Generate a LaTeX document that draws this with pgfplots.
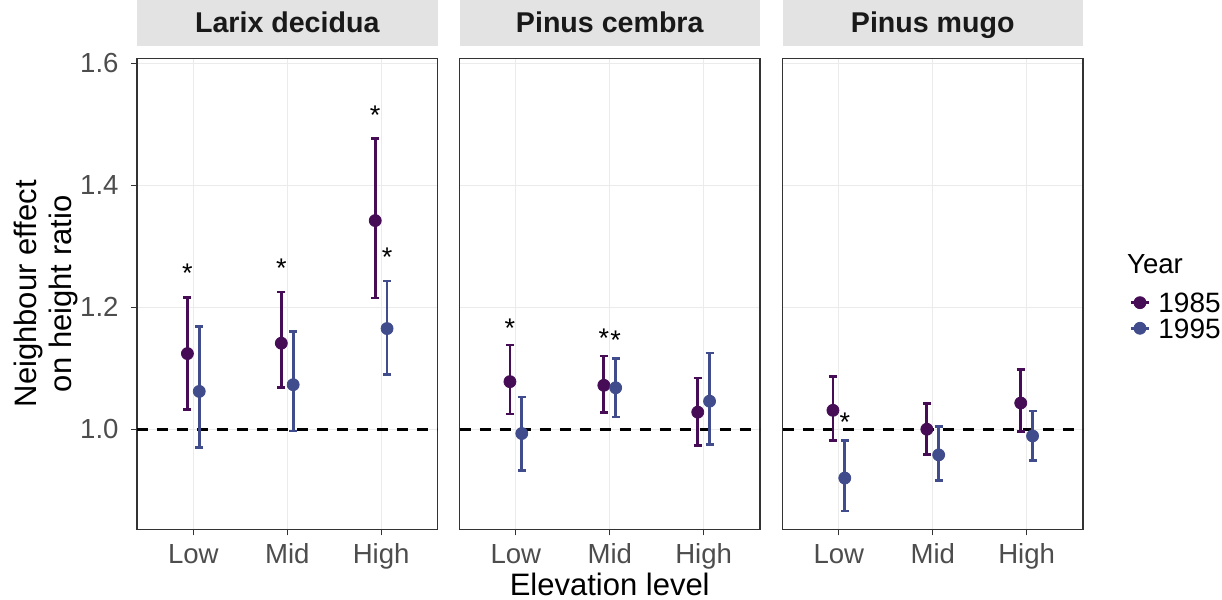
\documentclass[border=0pt]{standalone}
\usepackage{fontspec}
\setmainfont{Liberation Sans}
\usepackage{pgfplots}
\pgfplotsset{compat=1.18}
\usepackage{pgfplotstable}

\definecolor{c85}{RGB}{70,12,86}
\definecolor{c95}{RGB}{64,76,140}
\definecolor{gridc}{HTML}{EBEBEB}
\definecolor{framec}{HTML}{333333}
\definecolor{stripc}{HTML}{E3E3E3}
\definecolor{tickc}{HTML}{4D4D4D}

% Larix decidua
\pgfplotstableread{
x y lo hi
0.937 1.124 1.033 1.216
1.937 1.141 1.068 1.225
2.937 1.342 1.215 1.477
}\LarA
\pgfplotstableread{
x y lo hi
1.063 1.062 0.970 1.169
2.063 1.073 0.997 1.160
3.063 1.165 1.090 1.243
}\LarB
\pgfplotstableread{
x y
0.937 1.266
1.937 1.274
2.937 1.525
3.063 1.292
}\LarS
% Pinus cembra
\pgfplotstableread{
x y lo hi
0.937 1.078 1.025 1.138
1.937 1.072 1.028 1.120
2.937 1.028 0.973 1.084
}\CemA
\pgfplotstableread{
x y lo hi
1.063 0.993 0.933 1.053
2.063 1.068 1.020 1.116
3.063 1.046 0.975 1.125
}\CemB
\pgfplotstableread{
x y
0.937 1.175
1.937 1.159
2.063 1.156
}\CemS
% Pinus mugo
\pgfplotstableread{
x y lo hi
0.937 1.031 0.982 1.087
1.937 1.000 0.958 1.042
2.937 1.043 0.996 1.098
}\MugA
\pgfplotstableread{
x y lo hi
1.063 0.920 0.866 0.982
2.063 0.958 0.916 1.004
3.063 0.989 0.949 1.030
}\MugB
\pgfplotstableread{
x y
1.063 1.022
}\MugS

\pgfplotsset{
  panel/.style={
    scale only axis, width=150.25pt, height=235.5pt,
    anchor=south west,
    xmin=0.4, xmax=3.6, ymin=0.836, ymax=1.608,
    xtick={1,2,3}, xticklabels={Low,Mid,High},
    ytick={1.0,1.2,1.4,1.6},
    grid=major, major grid style={gridc, line width=0.5pt},
    axis line style={framec, line width=0.6pt},
    tick style={framec, line width=0.55pt},
    major tick length=3pt, tick align=outside,
    xtick pos=bottom, ytick pos=left,
    ticklabel style={font=\fontsize{13.8}{16}\selectfont, text=tickc},
    xticklabel style={anchor=base, yshift=-14.2pt, inner sep=0pt},
    yticklabel style={anchor=east, xshift=-6pt, inner sep=0pt,
      /pgf/number format/.cd, fixed, fixed zerofill, precision=1, assume math mode=true},
    title style={at={(0.5,1)}, anchor=south, yshift=0pt, fill=stripc,
      minimum width=150.25pt, minimum height=24pt, inner sep=0pt,
      text height=10.3pt, text depth=0pt,
      text=black!90, font=\fontsize{14.3}{17}\selectfont\bfseries},
    legend image code/.code={
      \draw[line width=1.4pt] (0pt,0pt) -- (9pt,0pt);
      \fill (4.5pt,0pt) circle (3pt);
    },
  },
  pts/.style={only marks, mark=*, mark size=3pt, mark options={draw=none, fill=#1}, color=#1,
    error bars/.cd, y dir=both, y explicit,
    error bar style={line width=1.4pt, #1},
    error mark options={rotate=90, mark size=2pt, line width=1.4pt, #1}},
  stars/.style={only marks, mark=text, text mark={*}, text mark as node=true,
    text mark style={font=\fontsize{13.5}{13.5}\selectfont, anchor=base, yshift=-7.7pt, inner sep=0pt, text=black},
    forget plot},
  hline/.style={black, line width=1.35pt, dash pattern=on 5.5pt off 4.5pt, forget plot},
}

\begin{document}
\begin{tikzpicture}
\useasboundingbox (0pt,0pt) rectangle (611pt,300pt);

% Panel 1
\begin{axis}[panel, at={(68.5pt,35.35pt)}, title={Larix decidua},
  ylabel={Neighbour effect\\on height ratio},
  ylabel style={at={(axis description cs:-0.1944,0.5)}, anchor=south, align=center, inner sep=0pt,
    font=\fontsize{15.5}{17.5}\selectfont, text=black}]
\addplot[hline] coordinates {(0.4,1) (3.6,1)};
\addplot[pts=c85] table[x=x, y=y, y error plus expr=\thisrow{hi}-\thisrow{y}, y error minus expr=\thisrow{y}-\thisrow{lo}] {\LarA};
\addplot[pts=c95] table[x=x, y=y, y error plus expr=\thisrow{hi}-\thisrow{y}, y error minus expr=\thisrow{y}-\thisrow{lo}] {\LarB};
\addplot[stars] table[x=x, y=y] {\LarS};
\end{axis}

% Panel 2
\begin{axis}[panel, at={(229.75pt,35.35pt)}, title={Pinus cembra},
  yticklabels={}, ytick style={draw=none},
  xlabel={Elevation level},
  xlabel style={at={(axis description cs:0.5,-0.1395)}, anchor=base, inner sep=0pt,
    font=\fontsize{15.5}{18}\selectfont, text=black}]
\addplot[hline] coordinates {(0.4,1) (3.6,1)};
\addplot[pts=c85] table[x=x, y=y, y error plus expr=\thisrow{hi}-\thisrow{y}, y error minus expr=\thisrow{y}-\thisrow{lo}] {\CemA};
\addplot[pts=c95] table[x=x, y=y, y error plus expr=\thisrow{hi}-\thisrow{y}, y error minus expr=\thisrow{y}-\thisrow{lo}] {\CemB};
\addplot[stars] table[x=x, y=y] {\CemS};
\end{axis}

% Panel 3
\begin{axis}[panel, at={(391.25pt,35.35pt)}, title={Pinus mugo},
  yticklabels={}, ytick style={draw=none},
  legend style={at={(axis description cs:1.155,0.454)}, anchor=west, draw=none, fill=none,
    inner sep=0pt, outer sep=0pt, row sep=2.8pt, column sep=4pt,
    nodes={inner sep=0pt, text depth=0pt},
    font=\fontsize{14}{16}\selectfont, text=black},
  legend cell align=left]
\addplot[hline] coordinates {(0.4,1) (3.6,1)};
\addplot[pts=c85] table[x=x, y=y, y error plus expr=\thisrow{hi}-\thisrow{y}, y error minus expr=\thisrow{y}-\thisrow{lo}] {\MugA};
\addlegendentry{\raisebox{0pt}[10pt][0pt]{1985}}
\addplot[pts=c95] table[x=x, y=y, y error plus expr=\thisrow{hi}-\thisrow{y}, y error minus expr=\thisrow{y}-\thisrow{lo}] {\MugB};
\addlegendentry{\raisebox{0pt}[10pt][0pt]{1995}}
\addplot[stars] table[x=x, y=y] {\MugS};
\end{axis}

\node[anchor=base west, inner sep=0pt, font=\fontsize{13.8}{16}\selectfont] at (563.35pt,163.35pt) {Year};
\end{tikzpicture}
\end{document}
